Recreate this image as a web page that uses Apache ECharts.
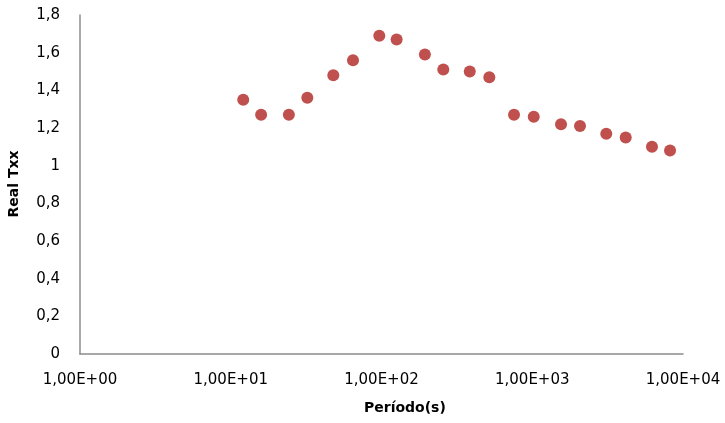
<!DOCTYPE html>
<html>
<head>
<meta charset="utf-8">
<script src="https://cdn.jsdelivr.net/npm/echarts@6/dist/echarts.min.js"></script>
<style>html,body{margin:0;padding:0;background:#fff}#c{width:725px;height:423px}</style>
</head>
<body>
<div id="c"></div>
<script>
const periods = [12.1, 15.9, 24.3, 32.2, 47.9, 64.7, 96.7, 126, 194, 257, 385, 519, 757, 1023, 1552, 2074, 3098, 4168, 6226, 8204];
const realTxx = [1.35, 1.27, 1.27, 1.36, 1.48, 1.56, 1.69, 1.67, 1.59, 1.51, 1.50, 1.47, 1.27, 1.26, 1.22, 1.21, 1.17, 1.15, 1.10, 1.08];
const xTickLabels = ['1,00E+00', '1,00E+01', '1,00E+02', '1,00E+03', '1,00E+04'];
const yTickLabels = ['0', '0,2', '0,4', '0,6', '0,8', '1', '1,2', '1,4', '1,6', '1,8'];
const xTitle = 'Período(s)';
const yTitle = 'Real Txx';

const chart = echarts.init(document.getElementById('c'));
const font = 'DejaVu Sans';
chart.setOption({
  animation: false,
  grid: { left: 80, right: 42, top: 15, bottom: 69 },
  xAxis: {
    type: 'log', logBase: 10, min: 1, max: 10000,
    axisLine: { lineStyle: { color: '#8c8c8c', width: 1.5 } },
    axisTick: { show: false },
    splitLine: { show: false },
    minorTick: { show: false },
    axisLabel: {
      margin: 19, fontFamily: font, fontSize: 15, color: '#000',
      formatter: function (v) { const i = Math.round(Math.log10(v)); return xTickLabels[i] || ''; }
    }
  },
  yAxis: {
    type: 'value', min: 0, max: 1.8, interval: 0.2,
    axisLine: { show: true, lineStyle: { color: '#8c8c8c', width: 1.5 } },
    axisTick: { show: false },
    splitLine: { show: false },
    axisLabel: {
      margin: 20, fontFamily: font, fontSize: 15, color: '#000',
      formatter: function (v) { const i = Math.round(v / 0.2); return yTickLabels[i] || ''; }
    }
  },
  graphic: [
    { type: 'text', left: 364, top: 401, style: { text: xTitle, font: 'bold 14px "DejaVu Sans"', fill: '#000', textAlign: 'center' } },
    { type: 'text', x: 14, y: 184, rotation: Math.PI / 2, style: { text: yTitle, font: 'bold 14px "DejaVu Sans"', fill: '#000', align: 'center', verticalAlign: 'middle' } }
  ],
  series: [{
    type: 'scatter',
    data: periods.map((p, i) => [p, realTxx[i]]),
    symbol: 'circle', symbolSize: 12,
    itemStyle: { color: '#C0504D', opacity: 1 }
  }]
});
</script>
</body>
</html>
